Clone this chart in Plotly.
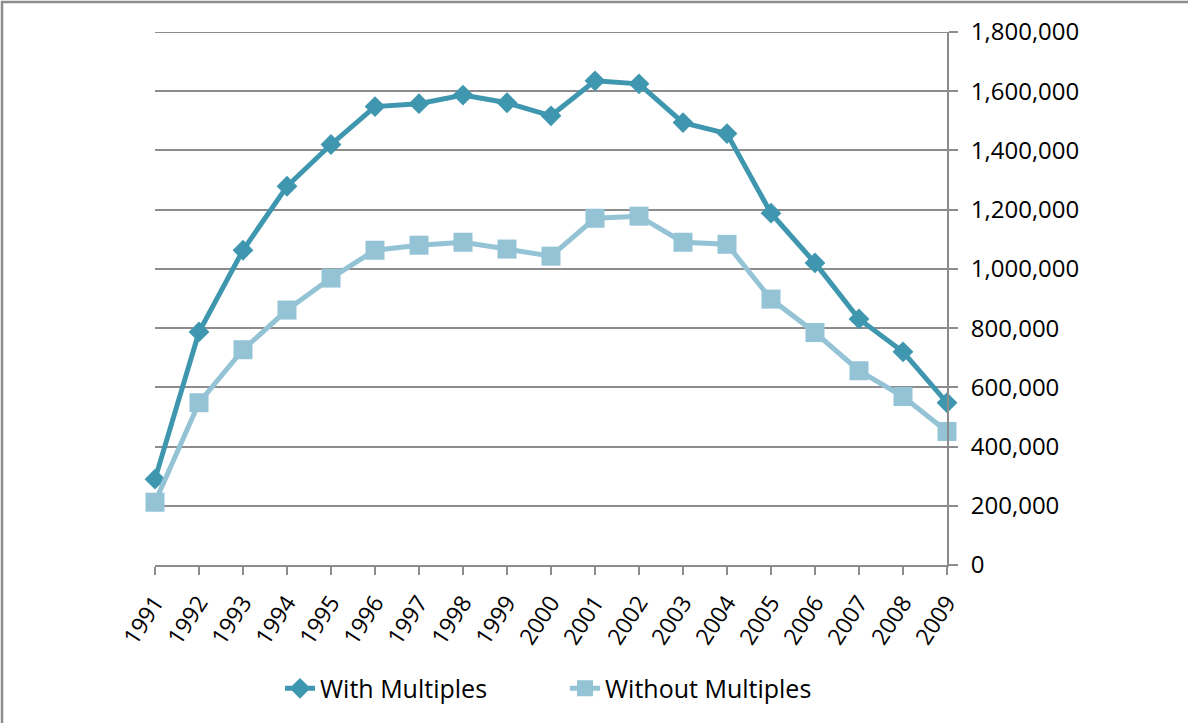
import plotly.graph_objects as go

years = [str(y) for y in range(1991, 2010)]
with_multiples = [290000, 787000, 1063000, 1279000, 1420000, 1548000, 1558000, 1587000, 1561000,
                  1517000, 1635000, 1625000, 1494000, 1457000, 1188000, 1020000, 831000, 720000, 548000]
without_multiples = [212000, 548000, 727000, 861000, 969000, 1063000, 1080000, 1090000, 1067000,
                     1043000, 1171000, 1178000, 1090000, 1083000, 898000, 785000, 656000, 569000, 451000]
y_ticks = [0, 200000, 400000, 600000, 800000, 1000000, 1200000, 1400000, 1600000, 1800000]

DARK = "#3F97AF"
LIGHT = "#93C3D5"
GRID = "#8C8C8C"
FONT = "Open Sans"

fig = go.Figure()
fig.add_trace(go.Scatter(
    x=list(range(len(years))), y=with_multiples, name="With Multiples", mode="lines+markers",
    line=dict(color=DARK, width=5), cliponaxis=False,
    marker=dict(symbol="diamond", size=16, color=DARK),
))
fig.add_trace(go.Scatter(
    x=list(range(len(years))), y=without_multiples, name="Without Multiples", mode="lines+markers",
    line=dict(color=LIGHT, width=5), cliponaxis=False,
    marker=dict(symbol="square", size=19, color=LIGHT),
))

W, H = 1188, 723
L, R, T, B = 155, 947, 32, 567
pw, ph = R - L, B - T

def px(x):
    return (x - L) / pw

def py(y):
    return (B - y) / ph

fig.update_layout(
    width=W, height=H,
    margin=dict(l=L, r=W - R, t=T, b=H - B, pad=0),
    paper_bgcolor="white", plot_bgcolor="white",
    font=dict(family=FONT, size=24, color="#000000"),
    showlegend=True,
    legend=dict(orientation="h", x=px(280), xanchor="left", y=py(691), yanchor="middle",
                font=dict(family=FONT, size=25), entrywidth=240, entrywidthmode="pixels",
                tracegroupgap=0, bgcolor="rgba(0,0,0,0)"),
    xaxis=dict(
        range=[0, len(years) - 1], tickmode="array",
        tickvals=list(range(len(years))), ticktext=years,
        tickangle=-57, showgrid=False, zeroline=False,
        showline=True, linecolor=GRID, linewidth=2,
        ticks="outside", ticklen=8, tickwidth=2, tickcolor=GRID,
        tickfont=dict(family=FONT, size=23), ticklabelstandoff=5,
    ),
    yaxis=dict(
        range=[0, y_ticks[-1]], side="right", tickmode="array", tickvals=y_ticks,
        ticktext=[f"{v:,}" for v in y_ticks],
        showgrid=True, gridcolor=GRID, gridwidth=2, zeroline=False,
        showline=True, linecolor=GRID, linewidth=2,
        ticks="outside", ticklen=9, tickwidth=2, tickcolor=GRID,
        tickfont=dict(family=FONT, size=24), ticklabelstandoff=8,
    ),
    shapes=[
        dict(type="line", xref="paper", yref="y", x0=0, x1=1, y0=y_ticks[-1], y1=y_ticks[-1],
             line=dict(color=GRID, width=2), layer="below"),
        dict(type="rect", xref="paper", yref="paper",
             x0=px(2), x1=px(1220), y0=py(2), y1=py(760),
             line=dict(color="#8C8C8C", width=2.5), fillcolor="rgba(0,0,0,0)"),
    ],
)

fig.write_html("out.html", config={"displayModeBar": False},
               post_script="document.body.style.margin='0';document.body.style.overflow='hidden';")
